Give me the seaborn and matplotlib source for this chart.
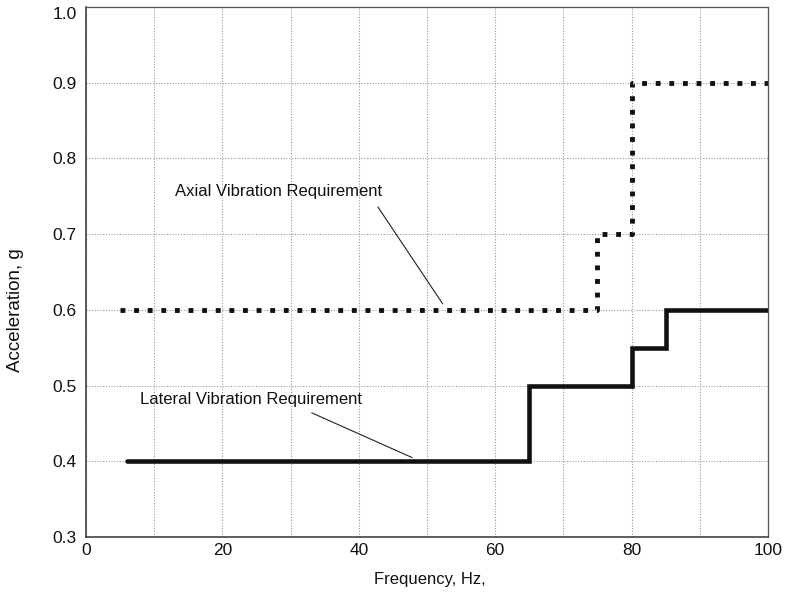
import matplotlib
matplotlib.use("Agg")
import matplotlib.pyplot as plt
import seaborn as sns
import pandas as pd

# Vibration requirement envelopes (frequency in Hz, acceleration in g)
lateral_freq = [6, 65, 80, 85, 100]
lateral_g = [0.40, 0.50, 0.55, 0.60, 0.60]

axial_freq = [5, 75, 80, 100]
axial_g = [0.60, 0.70, 0.90, 0.90]

x_ticks = [0, 20, 40, 60, 80, 100]
y_ticks = [0.3, 0.4, 0.5, 0.6, 0.7, 0.8, 0.9, 1.0]

sns.set_theme(style="white")
plt.rcParams["font.family"] = ["Liberation Sans", "DejaVu Sans"]

fig = plt.figure(figsize=(7.92, 5.93), dpi=100)
ax = fig.add_axes([0.1086, 0.0944, 0.861, 0.8938])

lateral = pd.DataFrame({"freq": lateral_freq, "g": lateral_g})
axial = pd.DataFrame({"freq": axial_freq, "g": axial_g})

sns.lineplot(data=lateral, x="freq", y="g", ax=ax, estimator=None, sort=False,
             drawstyle="steps-post", color="#111111", linewidth=3.3,
             solid_joinstyle="miter")
sns.lineplot(data=axial, x="freq", y="g", ax=ax, estimator=None, sort=False,
             drawstyle="steps-post", color="#111111", linewidth=3.5,
             linestyle=(0, (1.0, 1.8)))

ax.set_xlim(0, 100)
ax.set_ylim(0.3, 1.0)
ax.set_xticks(x_ticks)
ax.set_xticks(range(0, 101, 10), minor=True)
ax.set_yticks(y_ticks)
ax.set_xticklabels([str(v) for v in x_ticks])
ax.set_yticklabels([f"{v:.1f}" for v in y_ticks])

ax.grid(True, which="both", axis="x", color="#9a9a9a", linestyle=(0, (1, 1.5)), linewidth=0.8)
ax.grid(True, which="major", axis="y", color="#9a9a9a", linestyle=(0, (1, 1.5)), linewidth=0.8)
ax.set_axisbelow(True)

ax.tick_params(axis="both", which="both", length=0, labelsize=12.5, colors="#111111")
ax.tick_params(axis="y", pad=6.5)
ax.tick_params(axis="x", pad=4.5)
ax.get_yticklabels()[-1].set_va("top")

for side in ["left", "bottom"]:
    ax.spines[side].set_color("#333333")
    ax.spines[side].set_linewidth(1.1)
for side in ["top", "right"]:
    ax.spines[side].set_color("#555555")
    ax.spines[side].set_linewidth(0.9)

ax.set_xlabel("Frequency, Hz,", fontsize=12, color="#111111")
ax.set_ylabel("Acceleration, g", fontsize=13.5, color="#111111")
ax.xaxis.set_label_coords(0.504, -0.066)
ax.yaxis.set_label_coords(-0.0915, 0.428)

# Leader-line callouts
ax.text(13.0, 0.756, "Axial Vibration Requirement", fontsize=12,
        color="#111111", va="center", ha="left")
ax.annotate("", xy=(52.3, 0.608), xytext=(42.8, 0.736),
            arrowprops=dict(arrowstyle="-", color="#222222", lw=0.8,
                            shrinkA=0, shrinkB=0))

ax.text(7.9, 0.481, "Lateral Vibration Requirement", fontsize=12,
        color="#111111", va="center", ha="left")
ax.annotate("", xy=(47.8, 0.405), xytext=(33.1, 0.464),
            arrowprops=dict(arrowstyle="-", color="#222222", lw=0.8,
                            shrinkA=0, shrinkB=0))

fig.savefig("out.png", dpi=100)
